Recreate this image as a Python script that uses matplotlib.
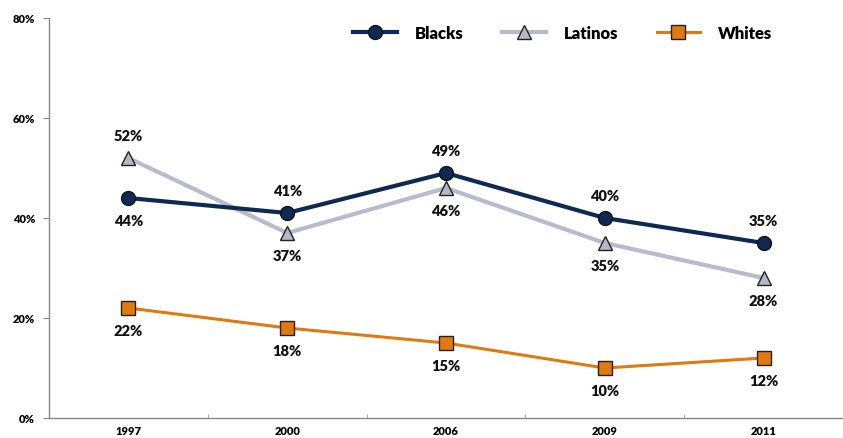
import matplotlib.pyplot as plt
from matplotlib.ticker import FuncFormatter

years = ["1997", "2000", "2006", "2009", "2011"]
blacks = [44, 41, 49, 40, 35]
latinos = [52, 37, 46, 35, 28]
whites = [22, 18, 15, 10, 12]

# label placement: 1 = above point, -1 = below
blacks_pos = [-1, 1, 1, 1, 1]
latinos_pos = [1, -1, -1, -1, -1]
whites_pos = [-1, -1, -1, -1, -1]

plt.rcParams['font.family'] = ['Lato', 'DejaVu Sans']

fig = plt.figure(figsize=(8.43, 4.39), dpi=100)
ax = fig.add_axes([49 / 843, 20 / 439, 1 - 49 / 843, 400 / 439])

x = range(len(years))
ax.plot(x, latinos, color="#B8BBCE", lw=3, marker="^", ms=10,
        mfc="#B4B7C6", mec="#222222", mew=1, label="Latinos", zorder=2)
ax.plot(x, blacks, color="#0E2A52", lw=3, marker="o", ms=10,
        mfc="#0E2A52", mec="#111111", mew=1, label="Blacks", zorder=3)
ax.plot(x, whites, color="#E07A10", lw=2.2, marker="s", ms=10,
        mfc="#E07A10", mec="#222222", mew=1, label="Whites", zorder=3)

for vals, pos in [(blacks, blacks_pos), (latinos, latinos_pos), (whites, whites_pos)]:
    for i, (v, p) in enumerate(zip(vals, pos)):
        ax.annotate(f"{v}%", (i, v), xytext=(0, 16 * p), textcoords="offset points",
                    ha="center", va="center", fontsize=10.5, fontweight="heavy", color="#111111")

ax.set_ylim(0, 80)
ax.set_yticks([0, 20, 40, 60, 80])
ax.yaxis.set_major_formatter(FuncFormatter(lambda v, _: f"{v:.0f}%"))
ax.set_xlim(-0.5, 4.43)
ax.set_xticks(list(x))
ax.set_xticklabels(years)
ax.set_xticks([i + 0.5 for i in range(len(years))], minor=True)
ax.tick_params(axis="x", which="major", length=0, pad=5)
ax.tick_params(axis="x", which="minor", length=3, direction="in", color="#999999")
ax.tick_params(axis="y", length=4, color="#888888", pad=6)
for lab in ax.get_xticklabels() + ax.get_yticklabels():
    lab.set_fontsize(8)
    lab.set_fontweight("heavy")

for s in ["top", "right"]:
    ax.spines[s].set_visible(False)
for s in ["left", "bottom"]:
    ax.spines[s].set_color("#888888")
    ax.spines[s].set_linewidth(1)

h, l = ax.get_legend_handles_labels()
order = [1, 0, 2]
leg = fig.legend([h[i] for i in order], [l[i] for i in order], loc="center",
                 bbox_to_anchor=(563 / 843, 1 - 34 / 439), ncol=3, frameon=False,
                 handlelength=2.6, columnspacing=2.3, handletextpad=1.1,
                 prop={"size": 12, "weight": "heavy"})

fig.savefig("out.png", dpi=100)
